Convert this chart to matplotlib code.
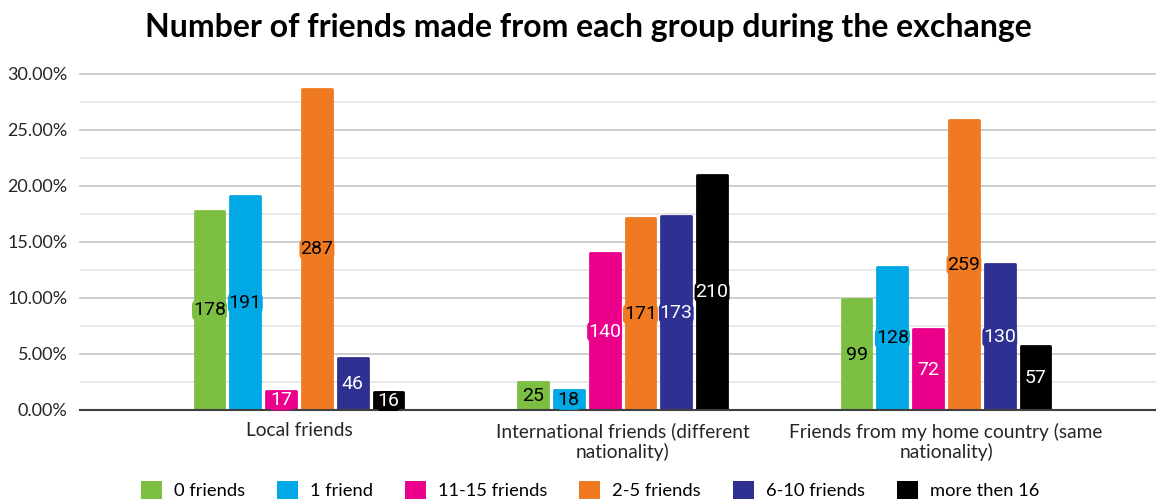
import matplotlib
matplotlib.use("Agg")
import matplotlib.pyplot as plt
import numpy as np
from matplotlib.ticker import MultipleLocator, FuncFormatter

categories = ["Local friends",
              "International friends (different\nnationality)",
              "Friends from my home country (same\nnationality)"]
series_names = ["0 friends", "1 friend", "11-15 friends", "2-5 friends", "6-10 friends", "more then 16"]
counts = {
    "0 friends": [178, 25, 99],
    "1 friend": [191, 18, 128],
    "11-15 friends": [17, 140, 72],
    "2-5 friends": [287, 171, 259],
    "6-10 friends": [46, 173, 130],
    "more then 16": [16, 210, 57],
}
percents = {
    "0 friends": [17.8, 2.5, 9.9],
    "1 friend": [19.1, 1.8, 12.8],
    "11-15 friends": [1.7, 14.0, 7.2],
    "2-5 friends": [28.7, 17.1, 25.9],
    "6-10 friends": [4.6, 17.3, 13.0],
    "more then 16": [1.6, 21.0, 5.7],
}
colors = ["#7CBF43", "#00A9E6", "#EB008B", "#F07A21", "#2E3192", "#000000"]
label_colors = ["#000000", "#000000", "#FFFFFF", "#000000", "#FFFFFF", "#FFFFFF"]

W, H = 1156, 499
fig = plt.figure(figsize=(W / 100, H / 100), dpi=100)
ax = fig.add_axes([80 / W, (H - 410) / H, (W - 80) / W, (410 - 74) / H])

x = np.arange(len(categories))
step = 0.1107
width = 0.092
for i, name in enumerate(series_names):
    pos = x + (i - 2.5) * step
    bars = ax.bar(pos, percents[name], width=width, color=colors[i],
                  edgecolor=colors[i], linewidth=2.0, joinstyle="round",
                  label=name, zorder=3)
    for b, c, p in zip(bars, counts[name], percents[name]):
        ax.text(b.get_x() + b.get_width() / 2, p / 2, str(c),
                ha="center", va="center", fontsize=14, family="Roboto",
                color=label_colors[i], zorder=5,
                bbox=dict(boxstyle="round,pad=0.05,rounding_size=0.25",
                          fc=colors[i], ec="none"))

ax.set_xlim(-0.677, 2.649)
ax.set_ylim(0, 30)
ax.yaxis.set_major_locator(MultipleLocator(5))
ax.yaxis.set_minor_locator(MultipleLocator(2.5))
ax.yaxis.set_major_formatter(FuncFormatter(lambda v, _: f"{v:.2f}%"))
ax.grid(axis="y", which="major", color="#C6C6C6", linewidth=1.2, zorder=0)
ax.grid(axis="y", which="minor", color="#E4E4E4", linewidth=1.2, zorder=0)
for gl in ax.get_ygridlines():
    gl.set_clip_on(False)
for s in ["top", "right", "left"]:
    ax.spines[s].set_visible(False)
ax.spines["bottom"].set_color("#404040")
ax.spines["bottom"].set_linewidth(1.5)
ax.spines["bottom"].set_zorder(4)
ax.tick_params(axis="y", which="both", length=0, pad=9, labelsize=13, labelcolor="#262626")
ax.tick_params(axis="x", length=0, pad=9, labelsize=13.8, labelcolor="#262626")
ax.set_xticks(x)
ax.set_xticklabels(categories, family="Lato", linespacing=1.15)
for t in ax.get_yticklabels():
    t.set_family("Lato")

fig.text(588 / W, 1 - 27 / H, "Number of friends made from each group during the exchange",
         ha="center", va="center", fontsize=23, fontweight="bold", family="Lato")

leg = fig.legend(loc="center", bbox_to_anchor=(590 / W, 9 / H), ncol=6, frameon=False,
                 prop={"family": "Lato", "size": 13.2}, handlelength=1.15, handleheight=1.2,
                 handletextpad=0.65, columnspacing=1.75)
for h in leg.legend_handles:
    h.set_linewidth(0)

fig.savefig("out.png", dpi=100)
